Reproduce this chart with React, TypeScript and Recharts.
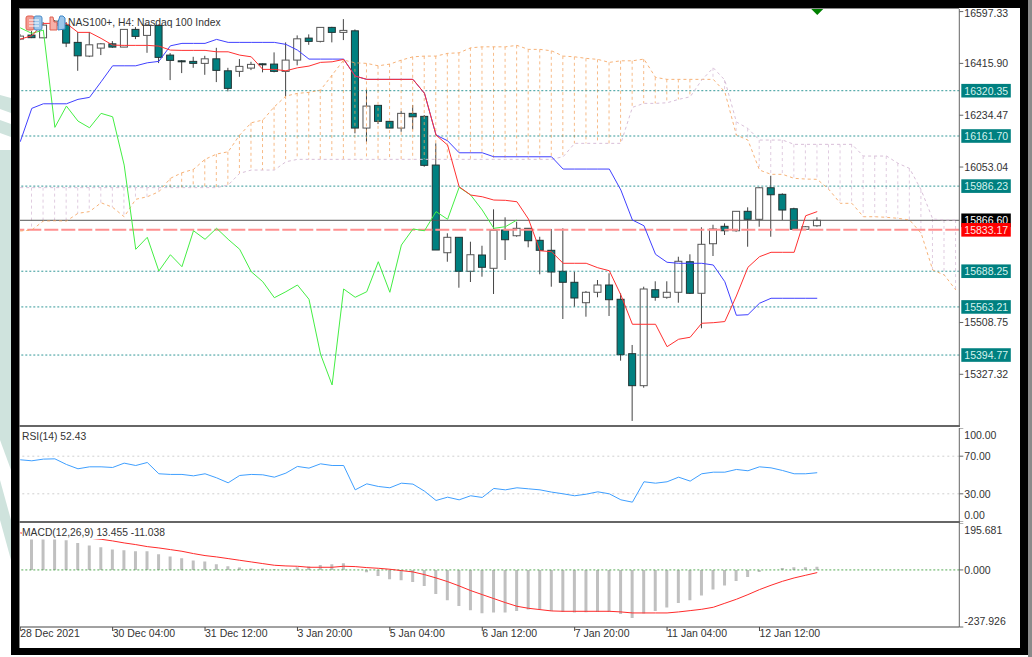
import React from 'react';
import {
  Bar,
  ComposedChart,
  Line,
  ReferenceDot,
  ReferenceLine,
  XAxis,
  YAxis,
} from 'recharts';

const FONT = '"Liberation Sans", Arial, sans-serif';
const TEXT = '#333333';
const TEAL = '#008080';
const BAR_COUNT = 82;
const X_DOMAIN: [number, number] = [-0.02, 81.3];

// H4 candles
const opens = [
  16501, 16515, 16505.5, 16550, 16550, 16489.5, 16441.5, 16469.5, 16484.5, 16473, 16535, 16514, 16549, 16445,
  16425, 16423, 16416, 16432, 16390, 16388, 16399.5, 16414.5, 16413.5, 16388, 16427.5, 16504.5, 16493, 16542,
  16524.5, 16530, 16189.5, 16269, 16213, 16189.5, 16241, 16230.5, 16060, 15753, 15807, 15688, 15745, 15698.5,
  15832.5, 15812.5, 15838.5, 15796.5, 15761.5, 15688, 15649.5, 15578, 15614.5, 15640, 15590, 15399.5, 15287.5,
  15623.5, 15597, 15614.5, 15721.5, 15611, 15784.5, 15845.5, 15830, 15898, 15870, 15980.5, 15957.5, 15907, 15835,
  15847.5,
];
const closes = [
  16511.5, 16506, 16550, 16564, 16487, 16442.5, 16481, 16484.5, 16473, 16535, 16510.5, 16549, 16437, 16426.5,
  16421.5, 16416, 16432, 16391.5, 16328.5, 16405.5, 16412.5, 16411, 16388, 16427.5, 16502, 16493, 16542, 16524.5,
  16531.5, 16189.5, 16266.5, 16213, 16189.5, 16241, 16229, 16059, 15762.5, 15807, 15688, 15746, 15702, 15831.5,
  15798.5, 15838.5, 15795, 15761.5, 15685.5, 15649.5, 15594.5, 15614.5, 15640, 15588.5, 15396, 15287.5, 15626,
  15597, 15614.5, 15723, 15611, 15782.5, 15836, 15830, 15898, 15870, 15980.5, 15956, 15902.5, 15835, 15844,
  15866.6,
];
const highs = [
  16518.5, 16529, 16560.5, 16567.5, 16560.5, 16525.5, 16525.5, 16487, 16494, 16536, 16543, 16553.5, 16552, 16452,
  16427.5, 16439, 16442.5, 16470.5, 16400.5, 16431, 16421.5, 16416, 16454.5, 16489.5, 16514, 16517.5, 16542, 16544,
  16571, 16535, 16325, 16270, 16214, 16249, 16270, 16235, 16136, 15821, 15808, 15791.5, 15777.5, 15905, 15877,
  15861.5, 15839.5, 15809, 15836, 15838.5, 15686.5, 15619, 15657.5, 15681, 15611, 15430, 15634, 15653, 15653, 15739,
  15747.5, 15842, 15851, 15856, 15899, 15912, 15983, 16022.5, 15961, 15910.5, 15846.5, 15877,
];
const lows = [
  16497.5, 16504.5, 16504.5, 16546.5, 16473, 16390, 16438, 16445, 16470.5, 16473, 16501, 16453, 16417, 16357.5,
  16382, 16400.5, 16376, 16350.5, 16318, 16369, 16392.5, 16384.5, 16384.5, 16301.5, 16409, 16481, 16489.5, 16489.5,
  16497.5, 16171, 16141.5, 16203.5, 16189.5, 16176.5, 16185, 16054, 15762.5, 15721.5, 15630.5, 15650.5, 15669,
  15608.5, 15727.5, 15809, 15772, 15677.5, 15634, 15521, 15564, 15529, 15597, 15531.5, 15375, 15164, 15280.5, 15585,
  15592, 15578, 15608.5, 15488.5, 15741.5, 15815, 15826.5, 15774, 15844, 15809, 15867.5, 15832.5, 15832.5, 15844,
];

// Ichimoku lines
const tenkan = [
  16501, 16512.5, 16556, 16556, 16556, 16524.5, 16524.5, 16503.5, 16480, 16479, 16479, 16479, 16476.5, 16462.5,
  16461.5, 16461.5, 16461.5, 16456.5, 16456.5, 16445, 16439, 16395, 16395, 16390, 16400.5, 16406.5, 16419.5, 16421.5,
  16430, 16371.5, 16360, 16360, 16360, 16360, 16360, 16311, 16165, 16130, 15984, 15955, 15949, 15937.5, 15936.5,
  15931.5, 15871, 15760, 15756.5, 15716, 15716, 15716, 15700.5, 15690, 15605, 15502.5, 15502.5, 15502.5, 15424,
  15450, 15457, 15506, 15508, 15512, 15601.5, 15702, 15739, 15754.5, 15754.5, 15754.5, 15882.5, 15897,
];
const kijun = [
  16141.5, 16258.5, 16274.5, 16274.5, 16274.5, 16290, 16297, 16351.5, 16407.5, 16407.5, 16407.5, 16418, 16423,
  16477.5, 16486, 16486, 16486, 16500, 16489.5, 16489.5, 16489.5, 16489.5, 16489.5, 16482.5, 16462.5, 16431, 16431,
  16431, 16431, 16371.5, 16360, 16360, 16360, 16360, 16360, 16311, 16165, 16145, 16103, 16103, 16103, 16089, 16089,
  16089, 16089, 16089, 16089, 16046, 16046, 16046, 16046, 16046, 15972.5, 15867.5, 15847.5, 15747.5, 15719.5, 15716,
  15716, 15716, 15710, 15651.5, 15534, 15536, 15576, 15593.5, 15593.5, 15593.5, 15593.5, 15593.5,
];
const chikou = [
  16540.5, 16521, 16532.5, 16192, 16266.5, 16214, 16190.5, 16241, 16229, 16060, 15765, 15807, 15689, 15746, 15704,
  15830, 15800, 15838.5, 15800, 15765, 15686.5, 15651.5, 15595.5, 15616.5, 15640, 15590, 15397.5, 15290, 15626,
  15597, 15616.5, 15721.5, 15614.5, 15780, 15836, 15830, 15897, 15870, 15982, 15955, 15902.5, 15838.5, 15844,
  15867.5,
];
const spanA = [
  15829, 15832.5, 15864, 15865, 15864, 15891, 15897, 15928, 15912, 15879, 15940, 15949, 15966.5, 16013.5, 16033,
  16045, 16080, 16098.5, 16106.5, 16165, 16208, 16217.5, 16264, 16301.5, 16311, 16314.5, 16322.5, 16375, 16427.5,
  16418, 16416, 16407.5, 16413.5, 16427.5, 16439, 16441.5, 16441.5, 16451, 16453, 16470.5, 16474, 16474, 16474,
  16479, 16465, 16465, 16460, 16441.5, 16439, 16433.5, 16430, 16419.5, 16425, 16425, 16431, 16367, 16360, 16360,
  16360, 16360, 16360, 16316.5, 16165, 16147.5, 16042.5, 16027.5, 16027.5, 16013.5, 16011, 16010, 15975, 15926,
  15926, 15879, 15879, 15877, 15873.5, 15867.5, 15821, 15692.5, 15675, 15622.5,
];
const spanB = [
  15981, 15981, 15981, 15981, 15981, 15981, 15981, 15981, 15981, 15981, 15981, 15981, 15981, 15981, 15981, 15981,
  15981, 15981, 15990, 16031, 16042.5, 16042.5, 16042.5, 16071.5, 16080, 16080, 16080, 16080, 16080, 16080, 16080,
  16080, 16080, 16080, 16080, 16080, 16080, 16080, 16080, 16080, 16080, 16080, 16080, 16080, 16080, 16080, 16080,
  16089, 16136, 16136, 16136, 16136, 16136, 16262, 16276, 16276, 16278, 16290, 16299, 16357.5, 16400.5, 16357.5,
  16211, 16188, 16147.5, 16147.5, 16147.5, 16132.5, 16132.5, 16132.5, 16132.5, 16132.5, 16132.5, 16091.5, 16091.5,
  16091.5, 16066, 16048, 15972.5, 15871, 15867.5, 15867.5,
];

const rsi = [
  66.2, 65.1, 66.9, 67.2, 61.2, 56.6, 58.7, 58.7, 58, 62.6, 60.1, 63.3, 51.3, 50.6, 50.6, 49.1, 51.3, 47, 41.7,
  49.5, 50.6, 50.2, 47.7, 52, 59.1, 57.3, 61.9, 60.1, 60.1, 34.2, 40.6, 37.8, 36.4, 41.3, 40.3, 32.8, 22.9, 26.4,
  23.6, 27.9, 26.1, 35.7, 34.2, 36.4, 35.3, 34.2, 31.8, 30, 27.9, 29.6, 32.1, 30, 23.6, 21.1, 42.8, 41.3, 42.8, 47.7,
  43.5, 51.3, 53, 53, 55.9, 54.5, 58.7, 57.6, 54.8, 51.3, 51.3, 52.43,
];
const macdHist = [
  null, 126.5, 126.5, 126.5, 123.7, 112.6, 101.5, 94.5, 84.8, 82, 77.8, 77.8, 65.3, 55.6, 48.7, 38.9, 34.8, 23.6,
  15.3, 9.7, 5.6, 5.6, 2.8, 1.4, 11.1, 13.9, 20.9, 23.6, 27.8, 0, -9.7, -25, -38.9, -43.1, -50, -66.7, -100, -126.5,
  -150.1, -168.2, -180.7, -177.9, -177.9, -171, -165.4, -164, -171, -175.1, -177.9, -176.5, -175.1, -175.1, -183.5,
  -200.2, -182, -171, -157, -137.6, -126.5, -107, -82, -65.3, -45.9, -29.2, -8.3, 0, 8.3, 11.1, 11.1, 13.455,
];
const macdSignal = [
  154.3, 150.1, 146, 143.2, 139, 134.8, 132, 127.9, 120.9, 112.6, 105.6, 97.3, 91.7, 84.8, 77.8, 68.1, 59.8, 54.2,
  47.3, 40.3, 33.4, 26.4, 19.5, 16.7, 15.3, 11.1, 11.1, 11.1, 15.3, 13.9, 9.7, 6.9, 2.8, -2.8, -8.3, -19.5, -33.4,
  -48.7, -66.7, -86.2, -102.9, -119.5, -136.2, -151.5, -159.9, -165.4, -171, -172.4, -172.4, -172.4, -172.4, -172.4,
  -175.1, -179.3, -179.3, -179.3, -179.3, -175.1, -169.6, -164, -155.7, -139, -122.3, -102.9, -82, -63.9, -47.3,
  -33.4, -22.2, -11.038,
];

const priceTicks = [16597.33, 16415.9, 16234.47, 16053.04, 15508.75, 15327.32];
const levels = [16320.35, 16161.7, 15986.23, 15688.25, 15563.21, 15394.77];
const lastPrice = 15866.6;
const signalPrice = 15833.17;
const rsiTicks = [100, 70, 30, 0];
const rsiGuides = [70, 30];
const macdTicks = [195.681, 0, -237.926];
const timeTicks = [0, 8, 16, 24, 32, 40, 48, 56, 64];
const timeLabels = [
  '28 Dec 2021',
  '30 Dec 04:00',
  '31 Dec 12:00',
  '3 Jan 20:00',
  '5 Jan 04:00',
  '6 Jan 12:00',
  '7 Jan 20:00',
  '11 Jan 04:00',
  '12 Jan 12:00',
];

const rows = Array.from({ length: BAR_COUNT }, (_, i) => ({
  i,
  open: opens[i] ?? null,
  close: closes[i] ?? null,
  range: i < opens.length ? [lows[i], highs[i]] : null,
  tenkan: tenkan[i] ?? null,
  kijun: kijun[i] ?? null,
  chikou: chikou[i] ?? null,
  spanA: spanA[i],
  spanB: spanB[i],
  cloud: i === 0 ? null : [Math.min(spanA[i], spanB[i]), Math.max(spanA[i], spanB[i])],
  cloudUp: spanA[i] >= spanB[i],
  rsi: rsi[i] ?? null,
  hist: macdHist[i] ?? null,
  signal: macdSignal[i] ?? null,
}));

const Candle = (props: any) => {
  const { x, y, width, height, payload } = props;
  if (!payload || payload.range == null) return null;
  const [low, high] = payload.range;
  const perUnit = height / (high - low);
  const top = y + (high - Math.max(payload.open, payload.close)) * perUnit;
  const bottom = y + (high - Math.min(payload.open, payload.close)) * perUnit;
  const cx = x + width / 2;
  const bull = payload.close >= payload.open;
  return (
    <g>
      <line x1={cx} x2={cx} y1={y} y2={y + height} stroke="#444444" strokeWidth={1} />
      <rect
        x={x}
        y={top}
        width={width}
        height={Math.max(bottom - top, 1)}
        fill={bull ? '#ffffff' : TEAL}
        stroke={bull ? '#555555' : '#223333'}
        strokeWidth={1}
      />
    </g>
  );
};

const CloudHatch = (props: any) => {
  const { x, y, width, height, payload } = props;
  if (!payload || payload.cloud == null) return null;
  const cx = x + width / 2;
  return (
    <line
      x1={cx}
      x2={cx}
      y1={y}
      y2={y + height}
      stroke={payload.cloudUp ? '#f4a460' : '#d8bfd8'}
      strokeOpacity={payload.cloudUp ? 0.75 : 0.8}
      strokeDasharray="3 3"
    />
  );
};

const LevelLabel = (fill: string, color: string, value: string) => (props: any) => {
  const vb = props.viewBox;
  return (
    <g>
      <rect x={vb.x + vb.width + 2} y={vb.y - 6.8} width={49.5} height={13.6} fill={fill} />
      <text
        x={vb.x + vb.width + 5}
        y={vb.y}
        dominantBaseline="central"
        fontSize={10.5}
        fontFamily={FONT}
        fill={color}
      >
        {value}
      </text>
    </g>
  );
};

const ValueTick = (decimals: number, shifts: Record<string, number> = {}) => (props: any) => {
  const { x, y, payload } = props;
  const shift = shifts[String(payload.value)] ?? 0;
  return (
    <text x={x} y={y + shift} dominantBaseline="central" fontSize={10.5} fontFamily={FONT} fill={TEXT}>
      {payload.value.toFixed(decimals)}
    </text>
  );
};

const TimeTick = (props: any) => {
  const { x, y, payload } = props;
  return (
    <text x={x} y={y} dominantBaseline="central" fontSize={10.5} fontFamily={FONT} fill={TEXT}>
      {timeLabels[timeTicks.indexOf(payload.value)]}
    </text>
  );
};

const TopMarker = (props: any) => {
  const { cx, cy } = props;
  return <path d={`M${cx - 6} ${cy} L${cx + 6} ${cy} L${cx} ${cy + 6} Z`} fill="#008000" />;
};

const panelText: React.CSSProperties = {
  position: 'absolute',
  fontFamily: FONT,
  fontSize: 10.3,
  color: TEXT,
  whiteSpace: 'pre',
  lineHeight: '12px',
};

const WIDTH = 1012;
const MARGIN = { top: 0, right: 0, bottom: 0, left: 0 };
const AXIS_WIDTH = 72.7;

const MainPanel = () => (
  <ComposedChart width={WIDTH} height={417} data={rows} margin={MARGIN}>
    <XAxis type="number" dataKey="i" domain={X_DOMAIN} allowDataOverflow hide />
    <XAxis xAxisId="cloud" type="number" dataKey="i" domain={X_DOMAIN} allowDataOverflow hide />
    <YAxis
      orientation="right"
      width={AXIS_WIDTH}
      domain={[15146.3, 16606.4]}
      allowDataOverflow
      ticks={priceTicks}
      interval={0}
      tick={ValueTick(2, { '16597.33': 1 })}
      tickSize={4}
      tickMargin={1}
      axisLine={{ stroke: '#666666' }}
      tickLine={{ stroke: '#666666' }}
    />
    {levels.map((level) => (
      <ReferenceLine
        key={level}
        y={level}
        stroke={TEAL}
        strokeOpacity={0.8}
        strokeDasharray="2 2"
        label={LevelLabel(TEAL, '#d5f2ee', level.toFixed(2))}
      />
    ))}
    <ReferenceLine
      y={lastPrice}
      stroke="#555555"
      label={LevelLabel('#000000', '#ffffff', lastPrice.toFixed(2))}
    />
    <ReferenceLine
      y={signalPrice}
      stroke="#ff9090"
      strokeWidth={2}
      strokeDasharray="14 3"
      label={LevelLabel('#ff0000', '#ffe0e0', signalPrice.toFixed(2))}
    />
    <Bar dataKey="range" barSize={7} shape={Candle} isAnimationActive={false} />
    <Bar xAxisId="cloud" dataKey="cloud" barSize={1} shape={CloudHatch} isAnimationActive={false} />
    <Line dataKey="spanA" stroke="#f4a460" strokeOpacity={0.85} strokeDasharray="3 3" dot={false} isAnimationActive={false} />
    <Line dataKey="spanB" stroke="#d8bfd8" strokeDasharray="3 3" dot={false} isAnimationActive={false} />
    <Line dataKey="chikou" stroke="#44ee44" dot={false} isAnimationActive={false} />
    <Line dataKey="kijun" stroke="#4040ff" dot={false} isAnimationActive={false} />
    <Line dataKey="tenkan" stroke="#ff3030" dot={false} isAnimationActive={false} />
    <ReferenceDot x={69} y={16606.4} r={6} ifOverflow="visible" shape={TopMarker} />
  </ComposedChart>
);

const RsiPanel = () => (
  <ComposedChart width={WIDTH} height={94} data={rows} margin={MARGIN}>
    <XAxis type="number" dataKey="i" domain={X_DOMAIN} allowDataOverflow hide />
    <YAxis
      orientation="right"
      width={AXIS_WIDTH}
      domain={[0, 100]}
      ticks={rsiTicks}
      interval={0}
      tick={ValueTick(2, { '100': 7, '0': -7 })}
      tickSize={4}
      tickMargin={1}
      axisLine={{ stroke: '#666666' }}
      tickLine={{ stroke: '#666666' }}
    />
    {rsiGuides.map((guide) => (
      <ReferenceLine key={guide} y={guide} stroke="#cfcfcf" strokeDasharray="2 3" />
    ))}
    <Line dataKey="rsi" stroke="#3f9fff" dot={false} isAnimationActive={false} />
  </ComposedChart>
);

const MacdPanel = () => (
  <ComposedChart width={WIDTH} height={125} data={rows} margin={MARGIN}>
    <XAxis
      type="number"
      dataKey="i"
      domain={X_DOMAIN}
      allowDataOverflow
      ticks={timeTicks}
      interval={0}
      tick={TimeTick}
      tickSize={4}
      tickMargin={2}
      height={21}
      axisLine={{ stroke: '#444444' }}
      tickLine={{ stroke: '#444444' }}
    />
    <YAxis
      orientation="right"
      width={AXIS_WIDTH}
      domain={[-237.926, 195.681]}
      allowDataOverflow
      ticks={macdTicks}
      interval={0}
      tick={ValueTick(3, { '195.681': 7, '-237.926': -6 })}
      tickSize={4}
      tickMargin={1}
      axisLine={{ stroke: '#666666' }}
      tickLine={{ stroke: '#666666' }}
    />
    <ReferenceLine y={0} stroke="#55aa55" strokeDasharray="2 2" />
    <Bar dataKey="hist" barSize={3} fill="#c0c0c0" isAnimationActive={false} />
    <Line dataKey="signal" stroke="#ff2a2a" dot={false} isAnimationActive={false} />
  </ComposedChart>
);

// Watermark behind the terminal window, and the window frame over the charts
const Backdrop = () => (
  <svg width={1032} height={657} style={{ position: 'absolute', left: 0, top: 0 }}>
    <rect width={1032} height={657} fill="#ffffff" />
    <g fill="#cfe3dd">
      <polygon points="0,95 11,98 11,113 0,109" />
      <polygon points="0,120 11,124 11,137 0,133" />
      <rect x={0} y={150} width={11} height={255} />
      <polygon points="0,405 11,405 11,470 0,440" />
      <polygon points="0,480 11,520 11,560 0,520" />
    </g>
  </svg>
);

const Frame = () => (
  <svg width={1032} height={657} style={{ position: 'absolute', left: 0, top: 0, pointerEvents: 'none' }}>
    <rect x={11} y={0} width={8} height={655} fill="#000000" />
    <rect x={1020} y={0} width={8} height={655} fill="#000000" />
    <rect x={1028} y={0} width={4} height={657} fill="#8a8a8a" />
    <rect x={11} y={0} width={1017} height={8} fill="#000000" />
    <rect x={11} y={648} width={1017} height={7} fill="#000000" />
    <rect x={19} y={8} width={1} height={640} fill="#8a8a8a" />
    <rect x={19} y={8} width={940} height={1} fill="#8a8a8a" />
    <rect x={19} y={425} width={941} height={2} fill="#666666" />
    <rect x={19} y={521} width={941} height={2} fill="#666666" />
    {/* toolbar badges */}
    <rect x={26} y={16} width={8} height={14} rx={2} fill="#f49a90" stroke="#e06050" />
    <rect x={34} y={16} width={8} height={14} rx={2} fill="#9cc6ea" stroke="#4a8cc8" />
    <path d="M29 20h10M29 23h10M29 26h10" stroke="#ffffff" />
    <path d="M50 17l3 0 1 5 3 0 0 8 -7 0z" fill="#f7b0a8" stroke="#e06050" />
    <path d="M58 22l2 -6 3 0 2 2 0 11 -7 1z" fill="#9cc6ea" stroke="#3b86c8" />
  </svg>
);

const App = () => (
  <div style={{ position: 'fixed', left: 0, top: 0, width: 1032, height: 657, overflow: 'hidden', background: '#fff' }}>
    <Backdrop />
    <div style={{ position: 'absolute', left: 20, top: 9 }}>
      <MainPanel />
    </div>
    <div style={{ position: 'absolute', left: 20, top: 427.5 }}>
      <RsiPanel />
    </div>
    <div style={{ position: 'absolute', left: 20, top: 523 }}>
      <MacdPanel />
    </div>
    <div style={{ ...panelText, left: 68, top: 17 }}>NAS100+, H4: Nasdaq 100 Index</div>
    <div style={{ ...panelText, left: 22, top: 431 }}>RSI(14) 52.43</div>
    <div style={{ ...panelText, left: 22, top: 527, background: '#fff', paddingRight: 1 }}>MACD(12,26,9) 13.455 -11.038</div>
    <Frame />
  </div>
);

export default App;
